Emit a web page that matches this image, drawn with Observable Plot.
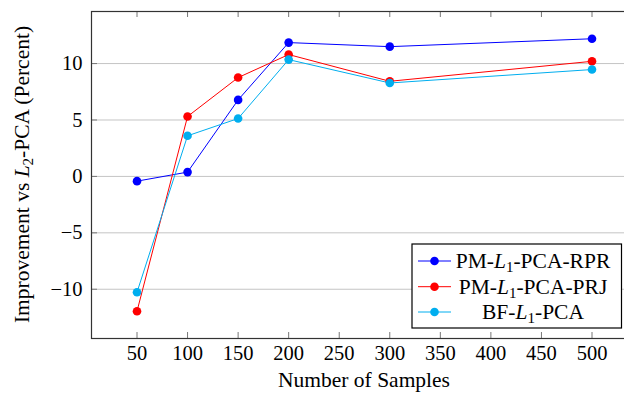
<!DOCTYPE html>
<html>
<head>
<meta charset="utf-8">
<script src="https://cdn.jsdelivr.net/npm/d3@7"></script>
<script src="https://cdn.jsdelivr.net/npm/@observablehq/plot@0.6"></script>
<style>
  html, body { margin: 0; padding: 0; background: #fff; }
  #wrap { position: relative; width: 624px; height: 394px; overflow: hidden; }
  #wrap svg { max-width: none !important; display: block; font-family: 'Liberation Serif', 'Times New Roman', serif !important; }
  #wrap svg text { font-family: 'Liberation Serif', 'Times New Roman', serif; }
</style>
</head>
<body>
<div id="wrap"></div>
<script>
// ---- data ----
const samples = [50, 100, 150, 200, 300, 500];
const seriesNames = ["PM-L1-PCA-RPR", "PM-L1-PCA-PRJ", "BF-L1-PCA"];
const rprValues = [-0.42, 0.38, 6.78, 11.86, 11.5, 12.2];
const prjValues = [-11.95, 5.31, 8.76, 10.8, 8.43, 10.2];
const bfValues = [-10.27, 3.6, 5.13, 10.35, 8.28, 9.47];
const seriesColors = ["#0000ff", "#ff0000", "#00aeef"];
const xTicks = [50, 100, 150, 200, 250, 300, 350, 400, 450, 500];
const yTicks = [-10, -5, 0, 5, 10];
const xLabel = "Number of Samples";

const allSeries = [rprValues, prjValues, bfValues];
const rows = [];
allSeries.forEach((vals, si) => {
  vals.forEach((v, i) => rows.push({n: samples[i], value: v, series: seriesNames[si]}));
});

// pgfplots-style enlarged limits (10%)
const xMin = d3.min(samples), xMax = d3.max(samples);
const yMin = d3.min(rows, d => d.value), yMax = d3.max(rows, d => d.value);
const xPad = (xMax - xMin) * 0.1, yPad = (yMax - yMin) * 0.1;

const W = 638, H = 394, mL = 91, mR = 1, mT = 11, mB = 56;
const innerW = W - mL - mR, innerH = H - mT - mB;
const tickLen = 6;
const font = "'Liberation Serif', 'Times New Roman', serif";
const labelSize = 21.5, tickFontSize = 20.5, subSize = 15;

const chart = Plot.plot({
  width: W,
  height: H,
  marginLeft: mL,
  marginRight: mR,
  marginTop: mT,
  marginBottom: mB,
  style: {fontFamily: font, fontSize: tickFontSize + "px", background: "#fff", color: "#000", maxWidth: "none"},
  x: {domain: [xMin - xPad, xMax + xPad], ticks: xTicks, label: null},
  y: {domain: [yMin - yPad, yMax + yPad], ticks: yTicks, label: null},
  color: {domain: seriesNames, range: seriesColors},
  marks: [
    Plot.gridY(yTicks, {stroke: "#c4c4c4", strokeOpacity: 1, strokeWidth: 1}),
    Plot.ruleX(xTicks, {x: d => d, insetTop: innerH - tickLen, stroke: "#777", strokeWidth: 1}),
    Plot.ruleX(xTicks, {x: d => d, insetBottom: innerH - tickLen, stroke: "#777", strokeWidth: 1}),
    Plot.ruleY(yTicks, {y: d => d, insetRight: innerW - tickLen, stroke: "#777", strokeWidth: 1}),
    Plot.axisX(xTicks, {tickSize: 0, tickPadding: 7, fontSize: tickFontSize, fontFamily: font, fontVariant: "normal", fill: "#000"}),
    Plot.axisY(yTicks, {tickSize: 0, tickPadding: 9, fontSize: tickFontSize, fontFamily: font, fontVariant: "normal", fill: "#000"}),
    Plot.frame({stroke: "#333", strokeWidth: 1.2}),
    Plot.line(rows, {x: "n", y: "value", z: "series", stroke: "series", strokeWidth: 1}),
    Plot.dot(rows, {x: "n", y: "value", fill: "series", r: 4.3, stroke: "none"})
  ]
});

document.getElementById("wrap").appendChild(chart);

const svg = d3.select(chart);

// x-axis label
svg.append("text")
  .attr("x", mL + innerW / 2)
  .attr("y", 387)
  .attr("text-anchor", "middle")
  .attr("font-family", font)
  .attr("font-size", labelSize)
  .attr("fill", "#000")
  .text(xLabel);

// y-axis label with math
const yl = svg.append("text")
  .attr("transform", `translate(29,${mT + innerH / 2}) rotate(-90)`)
  .attr("text-anchor", "middle")
  .attr("font-family", font)
  .attr("font-size", labelSize)
  .attr("fill", "#000");
yl.append("tspan").text("Improvement vs ");
yl.append("tspan").attr("font-style", "italic").text("L");
yl.append("tspan").attr("font-size", subSize).attr("dy", 4).text("2");
yl.append("tspan").attr("dy", -4).text("-PCA (Percent)");

// legend
const lg = svg.append("g");
const lx = 412, ly = 244, lw = 209.5, lh = 84;
lg.append("rect").attr("x", lx).attr("y", ly).attr("width", lw).attr("height", lh)
  .attr("fill", "#fff").attr("stroke", "#000").attr("stroke-width", 1.2);
const rowY = [261, 286.7, 312];
const parts = [["PM-", "1", "-PCA-RPR"], ["PM-", "1", "-PCA-PRJ"], ["BF-", "1", "-PCA"]];
seriesNames.forEach((name, i) => {
  const cy = rowY[i];
  lg.append("line").attr("x1", 418).attr("x2", 451).attr("y1", cy).attr("y2", cy)
    .attr("stroke", seriesColors[i]).attr("stroke-width", 1);
  lg.append("circle").attr("cx", 434.5).attr("cy", cy).attr("r", 4.3).attr("fill", seriesColors[i]);
  const t = lg.append("text").attr("x", 533).attr("y", cy + 7)
    .attr("text-anchor", "middle").attr("font-family", font).attr("font-size", labelSize).attr("fill", "#000");
  t.append("tspan").text(parts[i][0]);
  t.append("tspan").attr("font-style", "italic").text("L");
  t.append("tspan").attr("font-size", subSize).attr("dy", 4).text(parts[i][1]);
  t.append("tspan").attr("dy", -4).text(parts[i][2]);
});
</script>
</body>
</html>
